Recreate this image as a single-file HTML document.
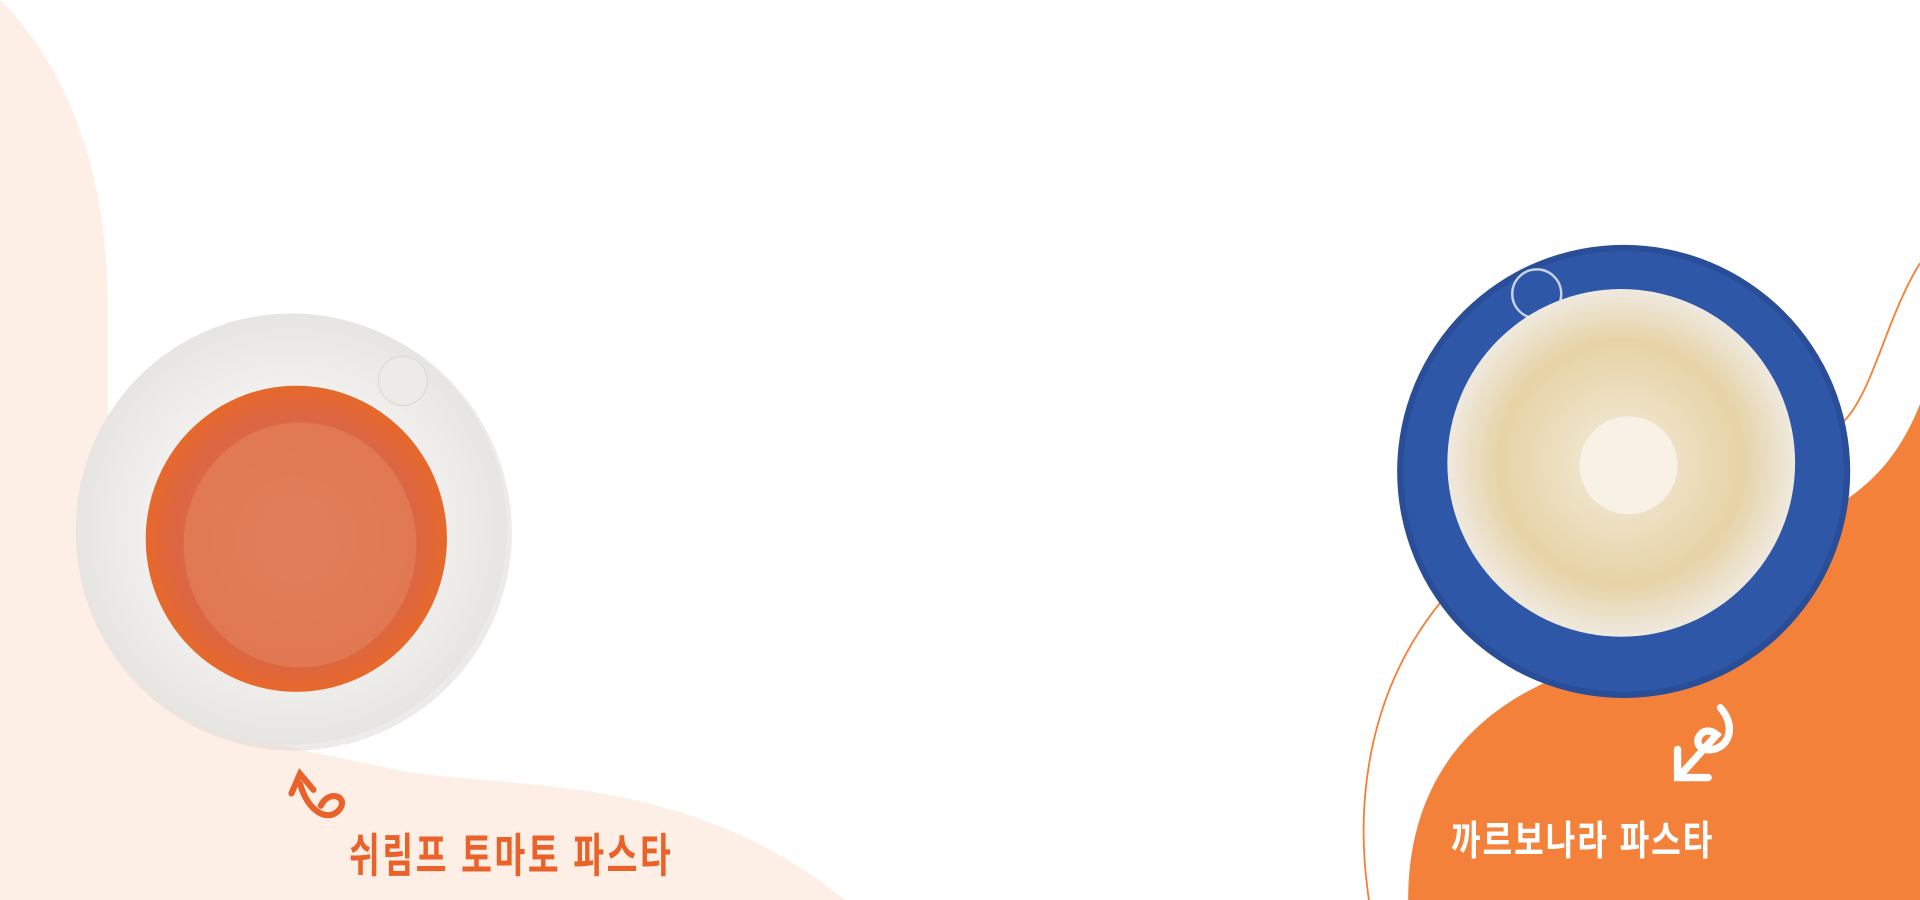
<!DOCTYPE html>
<html><head><meta charset="utf-8"><style>
html,body{margin:0;padding:0;background:#fff;width:1920px;height:900px;overflow:hidden}
svg{display:block}
text{font-family:"Liberation Sans","Noto Sans CJK KR","NanumGothic",sans-serif;font-weight:700}
</style></head><body>
<svg width="1920" height="900" viewBox="0 0 1568 735" xmlns="http://www.w3.org/2000/svg">
<defs>
<radialGradient id="sauce" cx="50%" cy="50%" r="50%">
<stop offset="0" stop-color="#e07558"/><stop offset="0.8" stop-color="#dc6644"/><stop offset="1" stop-color="#e6682a"/>
</radialGradient>
<radialGradient id="cream" cx="50%" cy="50%" r="50%">
<stop offset="0" stop-color="#f4ecdc"/><stop offset="0.7" stop-color="#e6d3a6"/><stop offset="1" stop-color="#efe9df"/>
</radialGradient>
<radialGradient id="plateW" cx="50%" cy="50%" r="50%">
<stop offset="0.6" stop-color="#f3f2f0"/><stop offset="1" stop-color="#e6e5e2"/>
</radialGradient>
</defs>
<path d="M0,0 C60,60 88,150 88,250 L88,330 C88,420 90,480 110,540 C150,600 240,610 330,630 C420,645 560,630 690,735 L0,735 Z" fill="#fdeee6"/>
<path d="M1568,330 C1540,400 1500,410 1460,440 C1410,480 1380,520 1310,540 C1200,570 1150,640 1150,735 L1568,735 Z" fill="#f4813a"/>
<path d="M1568,215 C1540,260 1530,320 1505,345" stroke="#f4813a" stroke-width="1.5" fill="none"/>
<path d="M1178,490 C1120,560 1105,650 1118,735" stroke="#f4813a" stroke-width="1.5" fill="none"/>
<circle cx="240" cy="435" r="178" fill="#d9d7d4" opacity="0.5"/>
<circle cx="238" cy="432" r="176" fill="url(#plateW)"/>
<circle cx="329" cy="311" r="20" fill="#ecebe8" stroke="#dcdad6"/>
<ellipse cx="242" cy="440" rx="123" ry="125" fill="url(#sauce)"/>
<ellipse cx="245" cy="445" rx="95" ry="100" fill="#e3865e" opacity="0.6"/>
<circle cx="1326" cy="385" r="185" fill="#2a4d98"/>
<circle cx="1326" cy="385" r="180" fill="#2f57a8"/>
<circle cx="1255" cy="240" r="20" fill="none" stroke="#c9d3ea" stroke-width="2"/>
<ellipse cx="1324" cy="378" rx="142" ry="142" fill="url(#cream)"/>
<circle cx="1330" cy="380" r="40" fill="#f7f1e6"/>
<g stroke="#e8622a" stroke-width="5" fill="none" stroke-linecap="round">
<path d="M245,640 C252,665 270,672 278,660 C284,650 268,645 262,658"/>
<path d="M238,648 L245,632 L256,645"/>
</g>
<g stroke="#fff" stroke-width="6" fill="none" stroke-linecap="round">
<path d="M1405,578 C1420,595 1410,615 1392,612 C1380,608 1390,590 1402,600 L1375,630"/>
<path d="M1370,612 L1370,635 L1395,635"/>
</g>
<text x="285" y="712" font-size="38" letter-spacing="3" fill="#e8622a" textLength="265" lengthAdjust="spacingAndGlyphs">쉬림프 토마토 파스타</text>
<text x="1185" y="698" font-size="33" letter-spacing="2" fill="#ffffff" textLength="215" lengthAdjust="spacingAndGlyphs">까르보나라 파스타</text>
</svg>
</body></html>
